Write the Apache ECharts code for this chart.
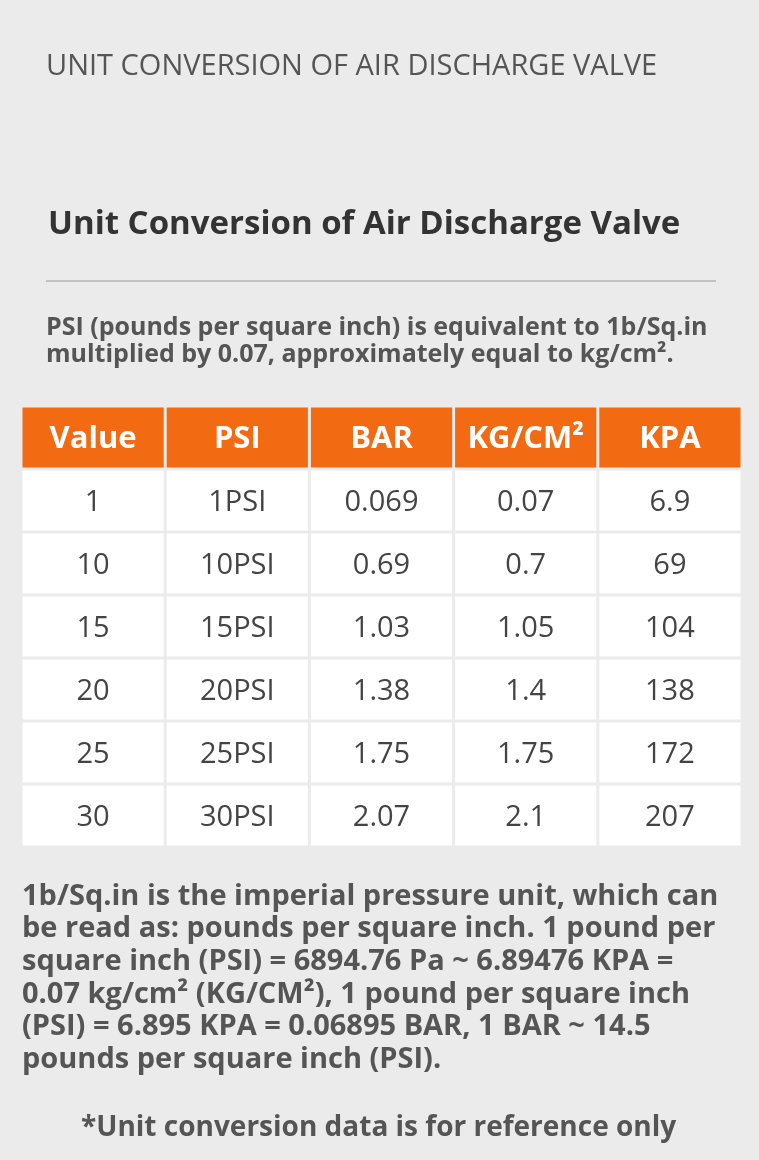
<!DOCTYPE html>
<html><head><meta charset="utf-8">
<script src="https://cdn.jsdelivr.net/npm/echarts@6/dist/echarts.min.js"></script>
<style>html,body{margin:0;padding:0;background:#ebebeb}#c{width:759px;height:1160px}</style>
</head><body><div id="c"></div>
<script>
const headers = ['Value','PSI','BAR','KG/CM²','KPA'];
const valueCol = ['1','10','15','20','25','30'];
const psiCol = ['1PSI','10PSI','15PSI','20PSI','25PSI','30PSI'];
const barCol = ['0.069','0.69','1.03','1.38','1.75','2.07'];
const kgCol = ['0.07','0.7','1.05','1.4','1.75','2.1'];
const kpaCol = ['6.9','69','104','138','172','207'];
const rowsLabels = ['h','r1','r2','r3','r4','r5','r6'];
const introLines = ['PSI (pounds per square inch) is equivalent to 1b/Sq.in','multiplied by 0.07, approximately equal to kg/cm².'];
const noteLines = ['1b/Sq.in is the imperial pressure unit, which can','be read as: pounds per square inch. 1 pound per','square inch (PSI) = 6894.76 Pa ~ 6.89476 KPA =','0.07 kg/cm² (KG/CM²), 1 pound per square inch','(PSI) = 6.895 KPA = 0.06895 BAR, 1 BAR ~ 14.5','pounds per square inch (PSI).'];

const cols = [valueCol, psiCol, barCol, kgCol, kpaCol];
const cells = [];
headers.forEach((h,i)=>cells.push([i,0,h]));
cols.forEach((c,i)=>c.forEach((v,j)=>cells.push([i,j+1,v])));

const FF = '"Open Sans","Noto Sans",sans-serif';
const graphics = [
 {type:'text',left:46,top:52,style:{text:'UNIT CONVERSION OF AIR DISCHARGE VALVE',font:'500 29px '+FF,fill:'#555'}},
 {type:'text',left:48,top:208,style:{text:'Unit Conversion of Air Discharge Valve',font:'bold 33px '+FF,fill:'#333'}},
 {type:'line',shape:{x1:46,y1:281,x2:716,y2:281},style:{stroke:'#b5b5b5',lineWidth:1.5}},
 {type:'text',left:81,top:1114,style:{text:'*Unit conversion data is for reference only',font:'bold 28px '+FF,fill:'#555'}}
];
introLines.forEach((t,i)=>graphics.push({type:'text',left:46,top:315+i*27,style:{text:t,font:'bold 25px '+FF,fill:'#555'}}));
noteLines.forEach((t,i)=>graphics.push({type:'text',left:22,top:882+i*32.6,style:{text:t,font:'bold 29px '+FF,fill:'#555'}}));

const chart = echarts.init(document.getElementById('c'));
chart.setOption({
 backgroundColor:'#ebebeb',
 animation:false,
 grid:{left:21,right:17,top:406,bottom:313},
 xAxis:{type:'category',data:headers,show:false},
 yAxis:{type:'category',data:rowsLabels,inverse:true,show:false},
 graphic:graphics,
 series:[{
  type:'custom',
  data:cells,
  renderItem:function(params,api){
   const x=api.value(0), y=api.value(1);
   const c=api.coord([x,y]); const s=api.size([1,1]);
   const hdr = y===0;
   return {type:'group',children:[
    {type:'rect',shape:{x:c[0]-s[0]/2+1.5,y:c[1]-s[1]/2+1.5,width:s[0]-3,height:s[1]-3},style:{fill:hdr?'#f26b13':'#ffffff'}},
    {type:'text',x:c[0],y:c[1]+2,style:{text:cells[params.dataIndex][2],align:'center',verticalAlign:'middle',font:(hdr?'bold 31px ':'500 29px ')+FF,fill:hdr?'#fff':'#444'}}
   ]};
  }
 }]
});
</script></body></html>
